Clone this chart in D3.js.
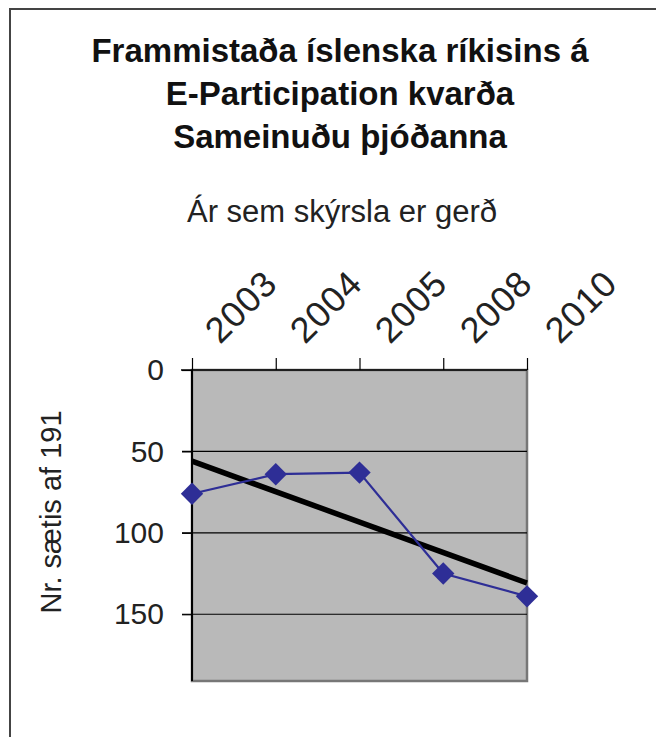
<!DOCTYPE html>
<html>
<head>
<meta charset="utf-8">
<script src="https://cdn.jsdelivr.net/npm/d3@7"></script>
<style>
html,body{margin:0;padding:0;background:#fff;}
svg{display:block;font-family:"Liberation Sans",Arial,Helvetica,sans-serif;}
</style>
</head>
<body>
<svg id="chart" width="656" height="737"></svg>
<script>
const titleLines = ["Frammistaða íslenska ríkisins á", "E-Participation kvarða", "Sameinuðu þjóðanna"];
const subtitle = "Ár sem skýrsla er gerð";
const yLabel = "Nr. sætis af 191";
const categories = ["2003", "2004", "2005", "2008", "2010"];
const ranks = [76, 64, 63, 125, 139];
const yTicks = [0, 50, 100, 150];
const yGrid = [50, 100, 150];
const yMax = 191;

const svg = d3.select("#chart");
svg.append("rect").attr("width", 656).attr("height", 737).attr("fill", "#fff");
// outer frame
svg.append("rect").attr("x", 10).attr("y", 9).attr("width", 700).attr("height", 800)
  .attr("fill", "none").attr("stroke", "#444").attr("stroke-width", 2);

const plot = {left: 192, right: 527, top: 370, bottom: 681};
const x = d3.scalePoint().domain(categories).range([plot.left, plot.right]);
const xLab = d3.scalePoint().domain(categories).range([220, 560]);
const y = d3.scaleLinear().domain([0, yMax]).range([plot.top, plot.bottom]);

// title
svg.append("g").selectAll("text").data(titleLines).join("text")
  .attr("x", 340).attr("y", (d, i) => 62 + i * 43)
  .attr("text-anchor", "middle").attr("font-weight", "bold").attr("font-size", 33)
  .attr("fill", "#111").text(d => d);
svg.append("text").attr("x", 342).attr("y", 222).attr("text-anchor", "middle")
  .attr("font-size", 31).attr("fill", "#222").text(subtitle);

// plot area
svg.append("rect").attr("x", plot.left).attr("y", plot.top)
  .attr("width", plot.right - plot.left).attr("height", plot.bottom - plot.top)
  .attr("fill", "#b9b9b9").attr("stroke", "#777").attr("stroke-width", 2.5);

// gridlines
svg.append("g").selectAll("line").data(yGrid).join("line")
  .attr("x1", plot.left - 10).attr("x2", plot.right)
  .attr("y1", d => y(d)).attr("y2", d => y(d))
  .attr("stroke", "#000").attr("stroke-width", 1.2);

// y axis
const yAxis = d3.axisLeft(y).tickValues(yTicks).tickSize(10).tickPadding(18);
const gy = svg.append("g").attr("transform", `translate(${plot.left},0)`).call(yAxis);
gy.select(".domain").attr("stroke", "#000").attr("stroke-width", 2)
  .attr("d", `M0,${plot.top}V${plot.bottom}`);
gy.selectAll(".tick line").attr("stroke", "#000").attr("stroke-width", 1.2);
gy.selectAll(".tick text").attr("font-size", 30).attr("fill", "#222")
  .attr("font-family", "'Liberation Sans',Arial,sans-serif");

// x axis on top
const xAxis = d3.axisTop(x).tickSize(12).tickFormat("");
const gx = svg.append("g").attr("transform", `translate(0,${plot.top})`).call(xAxis);
gx.select(".domain").attr("stroke", "#000").attr("stroke-width", 1.5)
  .attr("d", `M${plot.left - 11},0H${plot.right}`);
gx.selectAll(".tick line").attr("stroke", "#000").attr("stroke-width", 1.2);

// x labels (rotated)
svg.append("g").selectAll("text").data(categories).join("text")
  .attr("transform", d => `translate(${xLab(d)},345) rotate(-45)`)
  .attr("font-size", 36).attr("letter-spacing", 1).attr("fill", "#222").text(d => d);

// y label
svg.append("text").attr("transform", "translate(61,512) rotate(-90)")
  .attr("text-anchor", "middle").attr("font-size", 29).attr("fill", "#222").text(yLabel);

// trendline (least squares)
const n = ranks.length;
const xs = d3.range(1, n + 1);
const mx = d3.mean(xs), my = d3.mean(ranks);
const slope = d3.sum(xs, (v, i) => (v - mx) * (ranks[i] - my)) / d3.sum(xs, v => (v - mx) ** 2);
const icpt = my - slope * mx;
const trend = categories.map((c, i) => ({c, v: icpt + slope * (i + 1)}));
const trendLine = d3.line().x(d => x(d.c)).y(d => y(d.v));
svg.append("path").datum([trend[0], trend[n - 1]]).attr("d", trendLine)
  .attr("fill", "none").attr("stroke", "#000").attr("stroke-width", 5.5);

// series
const data = categories.map((c, i) => ({c, v: ranks[i]}));
const line = d3.line().x(d => x(d.c)).y(d => y(d.v));
svg.append("path").datum(data).attr("d", line).attr("fill", "none")
  .attr("stroke", "#2e2e96").attr("stroke-width", 2.2);
svg.append("g").selectAll("path").data(data).join("path")
  .attr("transform", d => `translate(${x(d.c)},${y(d.v)}) rotate(45)`)
  .attr("d", d3.symbol().type(d3.symbolSquare).size(250))
  .attr("fill", "#2e2e96");
</script>
</body>
</html>
